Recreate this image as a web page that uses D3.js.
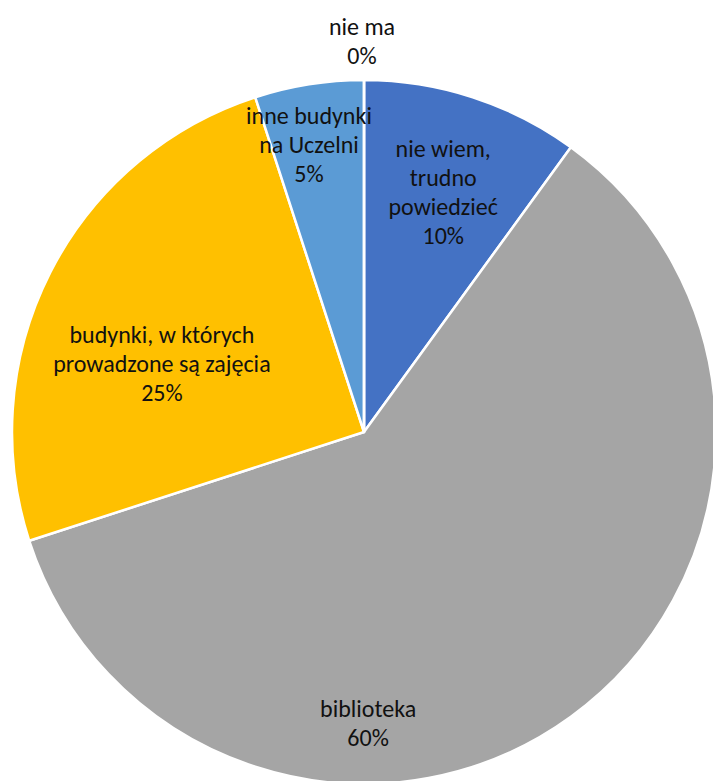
<!DOCTYPE html>
<html>
<head>
<meta charset="utf-8">
<script src="https://cdn.jsdelivr.net/npm/d3@7"></script>
<style>
  html, body { margin: 0; padding: 0; background: #fff; }
  svg { display: block; }
</style>
</head>
<body>
<svg id="chart"></svg>
<script>
// Data
const categories = ["nie wiem, trudno powiedzieć", "biblioteka", "budynki, w których prowadzone są zajęcia", "inne budynki na Uczelni", "nie ma"];
const values = [10, 60, 25, 5, 0];
const labelLines = [
  ["nie wiem,", "trudno", "powiedzieć"],
  ["biblioteka"],
  ["budynki, w których", "prowadzone są zajęcia"],
  ["inne budynki", "na Uczelni"],
  ["nie ma"]
];
const colors = ["#4472C4", "#A5A5A5", "#FFC000", "#5B9BD5", "#5B9BD5"];

// Label placement (degrees clockwise from 12 o'clock, distance from centre)
const labelPos = [[18.4, 251], [179.2, 293], [288.4, 213], [349.1, 291], [359.7, 390]];

const width = 713, height = 781;
const cx = 364, cy = 432, radius = 352;
const lineH = 29;

const svg = d3.select("#chart").attr("width", width).attr("height", height);
const g = svg.append("g").attr("transform", `translate(${cx},${cy})`);

const pie = d3.pie().sort(null).value(d => d);
const arc = d3.arc().innerRadius(0).outerRadius(radius);
const arcs = pie(values);

g.selectAll("path.slice")
  .data(arcs)
  .join("path")
  .attr("class", "slice")
  .attr("d", arc)
  .attr("fill", (d, i) => colors[i])
  .attr("stroke", "#fff")
  .attr("stroke-width", 2.5)
  .attr("stroke-linejoin", "round");

// Labels
const pct = d3.format(".0%");
const total = d3.sum(values);
arcs.forEach((d, i) => {
  const [a, r] = labelPos[i];
  const [x, y] = d3.pointRadial(a * Math.PI / 180, r);
  const lines = labelLines[i].concat(pct(values[i] / total));
  const t = g.append("text")
    .attr("text-anchor", "middle")
    .attr("font-family", "Calibri, Carlito, Lato, sans-serif")
    .attr("font-size", 24)
    .attr("fill", "#111");
  lines.forEach((ln, j) => {
    t.append("tspan")
      .attr("x", x)
      .attr("y", y + (j - (lines.length - 1) / 2) * lineH + 7)
      .text(ln);
  });
});
</script>
</body>
</html>
